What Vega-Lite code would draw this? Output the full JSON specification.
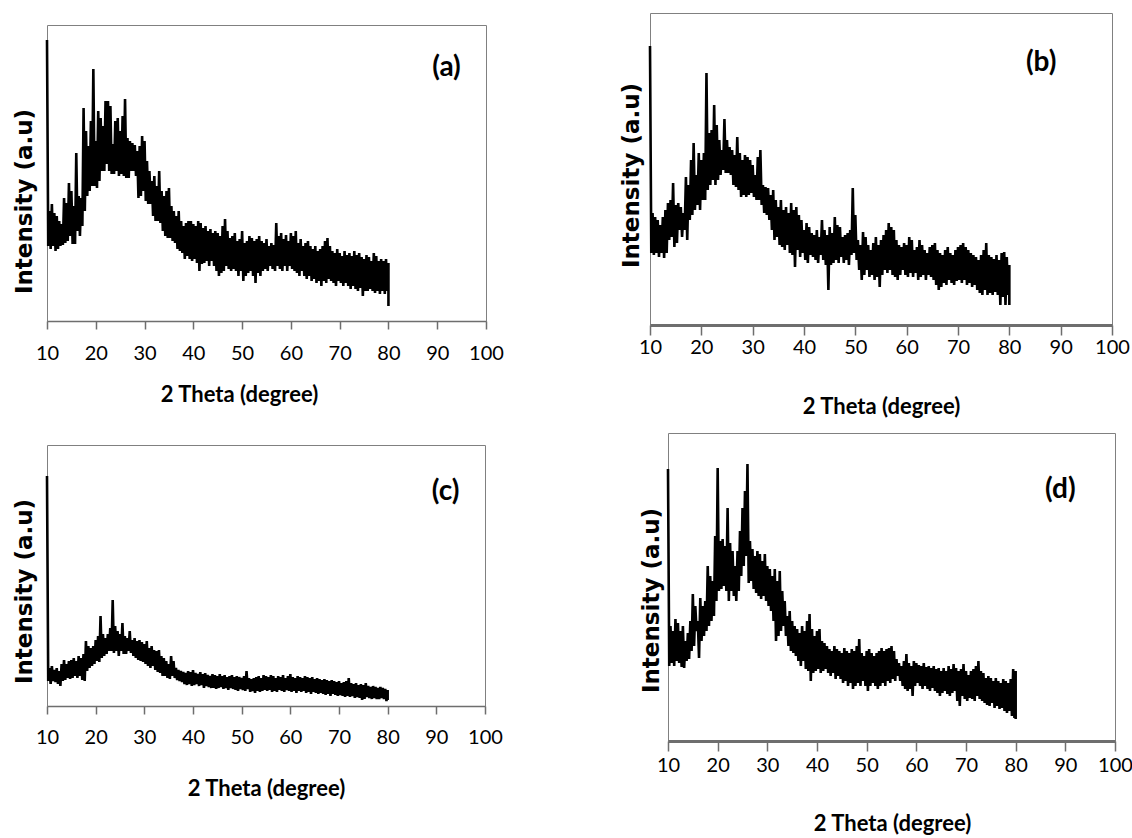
{
"$schema": "https://vega.github.io/schema/vega-lite/v6.json",
"background": "white",
"padding": {"left": 12, "top": 12, "right": 0, "bottom": 0},
"datasets": {
"a": [{"t":10,"i":281},{"t":10.25,"i":75},{"t":10.5,"i":110},{"t":10.75,"i":72},{"t":11,"i":117},{"t":11.25,"i":75},{"t":11.5,"i":108},{"t":11.75,"i":70},{"t":12,"i":105},{"t":12.25,"i":72},{"t":12.5,"i":100},{"t":12.75,"i":75},{"t":13,"i":97},{"t":13.25,"i":76},{"t":13.5,"i":123},{"t":13.75,"i":78},{"t":14,"i":118},{"t":14.25,"i":80},{"t":14.5,"i":138},{"t":14.75,"i":85},{"t":15,"i":130},{"t":15.25,"i":77},{"t":15.5,"i":115},{"t":15.75,"i":77},{"t":16,"i":168},{"t":16.25,"i":90},{"t":16.5,"i":125},{"t":16.75,"i":85},{"t":17,"i":123},{"t":17.25,"i":95},{"t":17.5,"i":213},{"t":17.75,"i":110},{"t":18,"i":190},{"t":18.25,"i":125},{"t":18.5,"i":175},{"t":18.75,"i":130},{"t":19,"i":200},{"t":19.25,"i":135},{"t":19.5,"i":252},{"t":19.75,"i":135},{"t":20,"i":180},{"t":20.25,"i":133},{"t":20.5,"i":210},{"t":20.75,"i":140},{"t":21,"i":203},{"t":21.25,"i":150},{"t":21.5,"i":195},{"t":21.75,"i":150},{"t":22,"i":220},{"t":22.25,"i":157},{"t":22.5,"i":220},{"t":22.75,"i":150},{"t":23,"i":215},{"t":23.25,"i":147},{"t":23.5,"i":177},{"t":23.75,"i":147},{"t":24,"i":200},{"t":24.25,"i":150},{"t":24.5,"i":203},{"t":24.75,"i":145},{"t":25,"i":190},{"t":25.25,"i":147},{"t":25.5,"i":205},{"t":25.75,"i":145},{"t":26,"i":222},{"t":26.25,"i":143},{"t":26.5,"i":183},{"t":26.75,"i":143},{"t":27,"i":180},{"t":27.25,"i":150},{"t":27.5,"i":178},{"t":27.75,"i":150},{"t":28,"i":176},{"t":28.25,"i":145},{"t":28.5,"i":170},{"t":28.75,"i":123},{"t":29,"i":175},{"t":29.25,"i":125},{"t":29.5,"i":185},{"t":29.75,"i":130},{"t":30,"i":180},{"t":30.25,"i":120},{"t":30.5,"i":160},{"t":30.75,"i":117},{"t":31,"i":150},{"t":31.25,"i":117},{"t":31.5,"i":140},{"t":31.75,"i":105},{"t":32,"i":145},{"t":32.25,"i":100},{"t":32.5,"i":135},{"t":32.75,"i":100},{"t":33,"i":150},{"t":33.25,"i":98},{"t":33.5,"i":130},{"t":33.75,"i":90},{"t":34,"i":125},{"t":34.25,"i":85},{"t":34.5,"i":130},{"t":34.75,"i":83},{"t":35,"i":133},{"t":35.25,"i":83},{"t":35.5,"i":115},{"t":35.75,"i":80},{"t":36,"i":110},{"t":36.25,"i":78},{"t":36.5,"i":105},{"t":36.75,"i":72},{"t":37,"i":110},{"t":37.25,"i":70},{"t":37.5,"i":100},{"t":37.75,"i":68},{"t":38,"i":95},{"t":38.25,"i":62},{"t":38.5,"i":98},{"t":38.75,"i":65},{"t":39,"i":100},{"t":39.25,"i":62},{"t":39.5,"i":100},{"t":39.75,"i":60},{"t":40,"i":97},{"t":40.25,"i":62},{"t":40.5,"i":95},{"t":40.75,"i":58},{"t":41,"i":100},{"t":41.25,"i":50},{"t":41.5,"i":98},{"t":41.75,"i":57},{"t":42,"i":93},{"t":42.25,"i":58},{"t":42.5,"i":95},{"t":42.75,"i":60},{"t":43,"i":90},{"t":43.25,"i":55},{"t":43.5,"i":92},{"t":43.75,"i":60},{"t":44,"i":88},{"t":44.25,"i":55},{"t":44.5,"i":90},{"t":44.75,"i":50},{"t":45,"i":88},{"t":45.25,"i":45},{"t":45.5,"i":85},{"t":45.75,"i":48},{"t":46,"i":95},{"t":46.25,"i":50},{"t":46.5,"i":102},{"t":46.75,"i":55},{"t":47,"i":90},{"t":47.25,"i":52},{"t":47.5,"i":83},{"t":47.75,"i":50},{"t":48,"i":85},{"t":48.25,"i":52},{"t":48.5,"i":88},{"t":48.75,"i":50},{"t":49,"i":80},{"t":49.25,"i":45},{"t":49.5,"i":82},{"t":49.75,"i":50},{"t":50,"i":90},{"t":50.25,"i":40},{"t":50.5,"i":78},{"t":50.75,"i":45},{"t":51,"i":80},{"t":51.25,"i":48},{"t":51.5,"i":85},{"t":51.75,"i":50},{"t":52,"i":83},{"t":52.25,"i":45},{"t":52.5,"i":80},{"t":52.75,"i":38},{"t":53,"i":82},{"t":53.25,"i":48},{"t":53.5,"i":85},{"t":53.75,"i":45},{"t":54,"i":80},{"t":54.25,"i":50},{"t":54.5,"i":78},{"t":54.75,"i":52},{"t":55,"i":82},{"t":55.25,"i":50},{"t":55.5,"i":75},{"t":55.75,"i":55},{"t":56,"i":78},{"t":56.25,"i":52},{"t":56.5,"i":76},{"t":56.75,"i":50},{"t":57,"i":98},{"t":57.25,"i":55},{"t":57.5,"i":85},{"t":57.75,"i":52},{"t":58,"i":88},{"t":58.25,"i":50},{"t":58.5,"i":82},{"t":58.75,"i":55},{"t":59,"i":86},{"t":59.25,"i":50},{"t":59.5,"i":80},{"t":59.75,"i":55},{"t":60,"i":88},{"t":60.25,"i":52},{"t":60.5,"i":85},{"t":60.75,"i":50},{"t":61,"i":90},{"t":61.25,"i":48},{"t":61.5,"i":78},{"t":61.75,"i":45},{"t":62,"i":82},{"t":62.25,"i":50},{"t":62.5,"i":75},{"t":62.75,"i":45},{"t":63,"i":78},{"t":63.25,"i":42},{"t":63.5,"i":80},{"t":63.75,"i":45},{"t":64,"i":75},{"t":64.25,"i":40},{"t":64.5,"i":72},{"t":64.75,"i":42},{"t":65,"i":75},{"t":65.25,"i":38},{"t":65.5,"i":70},{"t":65.75,"i":40},{"t":66,"i":72},{"t":66.25,"i":35},{"t":66.5,"i":75},{"t":66.75,"i":40},{"t":67,"i":80},{"t":67.25,"i":38},{"t":67.5,"i":83},{"t":67.75,"i":42},{"t":68,"i":75},{"t":68.25,"i":40},{"t":68.5,"i":70},{"t":68.75,"i":38},{"t":69,"i":68},{"t":69.25,"i":35},{"t":69.5,"i":72},{"t":69.75,"i":40},{"t":70,"i":68},{"t":70.25,"i":38},{"t":70.5,"i":65},{"t":70.75,"i":35},{"t":71,"i":70},{"t":71.25,"i":38},{"t":71.5,"i":66},{"t":71.75,"i":35},{"t":72,"i":68},{"t":72.25,"i":32},{"t":72.5,"i":65},{"t":72.75,"i":35},{"t":73,"i":70},{"t":73.25,"i":32},{"t":73.5,"i":66},{"t":73.75,"i":30},{"t":74,"i":68},{"t":74.25,"i":33},{"t":74.5,"i":64},{"t":74.75,"i":25},{"t":75,"i":62},{"t":75.25,"i":30},{"t":75.5,"i":66},{"t":75.75,"i":30},{"t":76,"i":64},{"t":76.25,"i":32},{"t":76.5,"i":60},{"t":76.75,"i":30},{"t":77,"i":68},{"t":77.25,"i":28},{"t":77.5,"i":65},{"t":77.75,"i":30},{"t":78,"i":60},{"t":78.25,"i":27},{"t":78.5,"i":62},{"t":78.75,"i":30},{"t":79,"i":60},{"t":79.25,"i":27},{"t":79.5,"i":62},{"t":79.75,"i":30},{"t":80,"i":58},{"t":80,"i":15}],
"b": [{"t":10,"i":279},{"t":10.25,"i":72},{"t":10.5,"i":112},{"t":10.75,"i":70},{"t":11,"i":108},{"t":11.25,"i":72},{"t":11.5,"i":105},{"t":11.75,"i":68},{"t":12,"i":100},{"t":12.25,"i":72},{"t":12.5,"i":108},{"t":12.75,"i":67},{"t":13,"i":115},{"t":13.25,"i":72},{"t":13.5,"i":122},{"t":13.75,"i":85},{"t":14,"i":125},{"t":14.25,"i":88},{"t":14.5,"i":142},{"t":14.75,"i":78},{"t":15,"i":120},{"t":15.25,"i":82},{"t":15.5,"i":122},{"t":15.75,"i":95},{"t":16,"i":118},{"t":16.25,"i":88},{"t":16.5,"i":112},{"t":16.75,"i":95},{"t":17,"i":148},{"t":17.25,"i":85},{"t":17.5,"i":140},{"t":17.75,"i":105},{"t":18,"i":165},{"t":18.25,"i":110},{"t":18.5,"i":182},{"t":18.75,"i":115},{"t":19,"i":150},{"t":19.25,"i":120},{"t":19.5,"i":172},{"t":19.75,"i":115},{"t":20,"i":165},{"t":20.25,"i":125},{"t":20.5,"i":172},{"t":20.75,"i":125},{"t":21,"i":252},{"t":21.25,"i":135},{"t":21.5,"i":192},{"t":21.75,"i":140},{"t":22,"i":195},{"t":22.25,"i":145},{"t":22.5,"i":220},{"t":22.75,"i":140},{"t":23,"i":200},{"t":23.25,"i":145},{"t":23.5,"i":185},{"t":23.75,"i":150},{"t":24,"i":175},{"t":24.25,"i":155},{"t":24.5,"i":206},{"t":24.75,"i":152},{"t":25,"i":185},{"t":25.25,"i":152},{"t":25.5,"i":178},{"t":25.75,"i":150},{"t":26,"i":175},{"t":26.25,"i":140},{"t":26.5,"i":170},{"t":26.75,"i":138},{"t":27,"i":188},{"t":27.25,"i":135},{"t":27.5,"i":172},{"t":27.75,"i":128},{"t":28,"i":165},{"t":28.25,"i":130},{"t":28.5,"i":170},{"t":28.75,"i":128},{"t":29,"i":168},{"t":29.25,"i":130},{"t":29.5,"i":165},{"t":29.75,"i":132},{"t":30,"i":160},{"t":30.25,"i":128},{"t":30.5,"i":150},{"t":30.75,"i":125},{"t":31,"i":168},{"t":31.25,"i":125},{"t":31.5,"i":175},{"t":31.75,"i":120},{"t":32,"i":140},{"t":32.25,"i":112},{"t":32.5,"i":138},{"t":32.75,"i":110},{"t":33,"i":137},{"t":33.25,"i":105},{"t":33.5,"i":130},{"t":33.75,"i":95},{"t":34,"i":135},{"t":34.25,"i":85},{"t":34.5,"i":125},{"t":34.75,"i":88},{"t":35,"i":118},{"t":35.25,"i":80},{"t":35.5,"i":125},{"t":35.75,"i":78},{"t":36,"i":115},{"t":36.25,"i":75},{"t":36.5,"i":118},{"t":36.75,"i":80},{"t":37,"i":112},{"t":37.25,"i":72},{"t":37.5,"i":122},{"t":37.75,"i":70},{"t":38,"i":115},{"t":38.25,"i":58},{"t":38.5,"i":118},{"t":38.75,"i":75},{"t":39,"i":110},{"t":39.25,"i":68},{"t":39.5,"i":105},{"t":39.75,"i":72},{"t":40,"i":95},{"t":40.25,"i":65},{"t":40.5,"i":102},{"t":40.75,"i":62},{"t":41,"i":98},{"t":41.25,"i":70},{"t":41.5,"i":92},{"t":41.75,"i":68},{"t":42,"i":90},{"t":42.25,"i":65},{"t":42.5,"i":95},{"t":42.75,"i":62},{"t":43,"i":88},{"t":43.25,"i":70},{"t":43.5,"i":105},{"t":43.75,"i":65},{"t":44,"i":95},{"t":44.25,"i":60},{"t":44.5,"i":90},{"t":44.75,"i":35},{"t":45,"i":98},{"t":45.25,"i":60},{"t":45.5,"i":92},{"t":45.75,"i":62},{"t":46,"i":108},{"t":46.25,"i":65},{"t":46.5,"i":100},{"t":46.75,"i":62},{"t":47,"i":98},{"t":47.25,"i":68},{"t":47.5,"i":88},{"t":47.75,"i":62},{"t":48,"i":90},{"t":48.25,"i":65},{"t":48.5,"i":92},{"t":48.75,"i":60},{"t":49,"i":95},{"t":49.25,"i":70},{"t":49.5,"i":137},{"t":49.75,"i":72},{"t":50,"i":110},{"t":50.25,"i":65},{"t":50.5,"i":85},{"t":50.75,"i":55},{"t":51,"i":80},{"t":51.25,"i":45},{"t":51.5,"i":93},{"t":51.75,"i":50},{"t":52,"i":88},{"t":52.25,"i":55},{"t":52.5,"i":80},{"t":52.75,"i":48},{"t":53,"i":75},{"t":53.25,"i":50},{"t":53.5,"i":82},{"t":53.75,"i":45},{"t":54,"i":88},{"t":54.25,"i":48},{"t":54.5,"i":80},{"t":54.75,"i":38},{"t":55,"i":85},{"t":55.25,"i":50},{"t":55.5,"i":90},{"t":55.75,"i":55},{"t":56,"i":95},{"t":56.25,"i":52},{"t":56.5,"i":102},{"t":56.75,"i":55},{"t":57,"i":98},{"t":57.25,"i":50},{"t":57.5,"i":95},{"t":57.75,"i":48},{"t":58,"i":85},{"t":58.25,"i":45},{"t":58.5,"i":80},{"t":58.75,"i":50},{"t":59,"i":78},{"t":59.25,"i":55},{"t":59.5,"i":82},{"t":59.75,"i":50},{"t":60,"i":80},{"t":60.25,"i":48},{"t":60.5,"i":88},{"t":60.75,"i":52},{"t":61,"i":85},{"t":61.25,"i":48},{"t":61.5,"i":75},{"t":61.75,"i":52},{"t":62,"i":78},{"t":62.25,"i":45},{"t":62.5,"i":85},{"t":62.75,"i":48},{"t":63,"i":80},{"t":63.25,"i":50},{"t":63.5,"i":75},{"t":63.75,"i":45},{"t":64,"i":72},{"t":64.25,"i":50},{"t":64.5,"i":78},{"t":64.75,"i":48},{"t":65,"i":80},{"t":65.25,"i":45},{"t":65.5,"i":82},{"t":65.75,"i":40},{"t":66,"i":75},{"t":66.25,"i":35},{"t":66.5,"i":72},{"t":66.75,"i":38},{"t":67,"i":70},{"t":67.25,"i":42},{"t":67.5,"i":75},{"t":67.75,"i":40},{"t":68,"i":78},{"t":68.25,"i":45},{"t":68.5,"i":72},{"t":68.75,"i":42},{"t":69,"i":70},{"t":69.25,"i":40},{"t":69.5,"i":75},{"t":69.75,"i":44},{"t":70,"i":78},{"t":70.25,"i":45},{"t":70.5,"i":80},{"t":70.75,"i":42},{"t":71,"i":82},{"t":71.25,"i":45},{"t":71.5,"i":78},{"t":71.75,"i":40},{"t":72,"i":75},{"t":72.25,"i":42},{"t":72.5,"i":72},{"t":72.75,"i":38},{"t":73,"i":70},{"t":73.25,"i":40},{"t":73.5,"i":68},{"t":73.75,"i":35},{"t":74,"i":65},{"t":74.25,"i":32},{"t":74.5,"i":70},{"t":74.75,"i":30},{"t":75,"i":75},{"t":75.25,"i":35},{"t":75.5,"i":82},{"t":75.75,"i":30},{"t":76,"i":70},{"t":76.25,"i":32},{"t":76.5,"i":68},{"t":76.75,"i":30},{"t":77,"i":66},{"t":77.25,"i":33},{"t":77.5,"i":70},{"t":77.75,"i":30},{"t":78,"i":65},{"t":78.25,"i":20},{"t":78.5,"i":72},{"t":78.75,"i":28},{"t":79,"i":73},{"t":79.25,"i":20},{"t":79.5,"i":68},{"t":79.75,"i":30},{"t":80,"i":60},{"t":80,"i":20}],
"c": [{"t":10,"i":230},{"t":10.25,"i":25},{"t":10.5,"i":38},{"t":10.75,"i":22},{"t":11,"i":40},{"t":11.25,"i":25},{"t":11.5,"i":36},{"t":11.75,"i":24},{"t":12,"i":38},{"t":12.25,"i":22},{"t":12.5,"i":35},{"t":12.75,"i":20},{"t":13,"i":42},{"t":13.25,"i":25},{"t":13.5,"i":46},{"t":13.75,"i":26},{"t":14,"i":42},{"t":14.25,"i":28},{"t":14.5,"i":45},{"t":14.75,"i":27},{"t":15,"i":46},{"t":15.25,"i":28},{"t":15.5,"i":48},{"t":15.75,"i":30},{"t":16,"i":45},{"t":16.25,"i":28},{"t":16.5,"i":50},{"t":16.75,"i":30},{"t":17,"i":48},{"t":17.25,"i":26},{"t":17.5,"i":52},{"t":17.75,"i":25},{"t":18,"i":65},{"t":18.25,"i":35},{"t":18.5,"i":60},{"t":18.75,"i":38},{"t":19,"i":58},{"t":19.25,"i":40},{"t":19.5,"i":60},{"t":19.75,"i":42},{"t":20,"i":66},{"t":20.25,"i":45},{"t":20.5,"i":70},{"t":20.75,"i":44},{"t":21,"i":90},{"t":21.25,"i":48},{"t":21.5,"i":72},{"t":21.75,"i":50},{"t":22,"i":68},{"t":22.25,"i":52},{"t":22.5,"i":72},{"t":22.75,"i":55},{"t":23,"i":78},{"t":23.25,"i":55},{"t":23.5,"i":106},{"t":23.75,"i":53},{"t":24,"i":80},{"t":24.25,"i":55},{"t":24.5,"i":75},{"t":24.75,"i":50},{"t":25,"i":72},{"t":25.25,"i":55},{"t":25.5,"i":83},{"t":25.75,"i":52},{"t":26,"i":70},{"t":26.25,"i":52},{"t":26.5,"i":68},{"t":26.75,"i":55},{"t":27,"i":75},{"t":27.25,"i":53},{"t":27.5,"i":66},{"t":27.75,"i":50},{"t":28,"i":68},{"t":28.25,"i":48},{"t":28.5,"i":65},{"t":28.75,"i":46},{"t":29,"i":66},{"t":29.25,"i":45},{"t":29.5,"i":64},{"t":29.75,"i":44},{"t":30,"i":62},{"t":30.25,"i":42},{"t":30.5,"i":65},{"t":30.75,"i":40},{"t":31,"i":58},{"t":31.25,"i":38},{"t":31.5,"i":60},{"t":31.75,"i":40},{"t":32,"i":56},{"t":32.25,"i":36},{"t":32.5,"i":55},{"t":32.75,"i":34},{"t":33,"i":56},{"t":33.25,"i":33},{"t":33.5,"i":50},{"t":33.75,"i":30},{"t":34,"i":48},{"t":34.25,"i":30},{"t":34.5,"i":45},{"t":34.75,"i":28},{"t":35,"i":42},{"t":35.25,"i":27},{"t":35.5,"i":50},{"t":35.75,"i":30},{"t":36,"i":45},{"t":36.25,"i":28},{"t":36.5,"i":38},{"t":36.75,"i":26},{"t":37,"i":36},{"t":37.25,"i":25},{"t":37.5,"i":35},{"t":37.75,"i":24},{"t":38,"i":34},{"t":38.25,"i":22},{"t":38.5,"i":33},{"t":38.75,"i":21},{"t":39,"i":35},{"t":39.25,"i":22},{"t":39.5,"i":34},{"t":39.75,"i":20},{"t":40,"i":36},{"t":40.25,"i":21},{"t":40.5,"i":33},{"t":40.75,"i":22},{"t":41,"i":32},{"t":41.25,"i":20},{"t":41.5,"i":34},{"t":41.75,"i":21},{"t":42,"i":32},{"t":42.25,"i":18},{"t":42.5,"i":33},{"t":42.75,"i":20},{"t":43,"i":31},{"t":43.25,"i":19},{"t":43.5,"i":30},{"t":43.75,"i":18},{"t":44,"i":32},{"t":44.25,"i":18},{"t":44.5,"i":31},{"t":44.75,"i":17},{"t":45,"i":30},{"t":45.25,"i":18},{"t":45.5,"i":32},{"t":45.75,"i":19},{"t":46,"i":30},{"t":46.25,"i":17},{"t":46.5,"i":31},{"t":46.75,"i":18},{"t":47,"i":29},{"t":47.25,"i":16},{"t":47.5,"i":30},{"t":47.75,"i":18},{"t":48,"i":31},{"t":48.25,"i":17},{"t":48.5,"i":29},{"t":48.75,"i":16},{"t":49,"i":30},{"t":49.25,"i":15},{"t":49.5,"i":29},{"t":49.75,"i":17},{"t":50,"i":28},{"t":50.25,"i":16},{"t":50.5,"i":30},{"t":50.75,"i":15},{"t":51,"i":35},{"t":51.25,"i":17},{"t":51.5,"i":28},{"t":51.75,"i":14},{"t":52,"i":27},{"t":52.25,"i":15},{"t":52.5,"i":28},{"t":52.75,"i":13},{"t":53,"i":29},{"t":53.25,"i":15},{"t":53.5,"i":30},{"t":53.75,"i":14},{"t":54,"i":28},{"t":54.25,"i":15},{"t":54.5,"i":31},{"t":54.75,"i":16},{"t":55,"i":30},{"t":55.25,"i":15},{"t":55.5,"i":29},{"t":55.75,"i":16},{"t":56,"i":31},{"t":56.25,"i":14},{"t":56.5,"i":30},{"t":56.75,"i":15},{"t":57,"i":28},{"t":57.25,"i":14},{"t":57.5,"i":30},{"t":57.75,"i":16},{"t":58,"i":29},{"t":58.25,"i":15},{"t":58.5,"i":31},{"t":58.75,"i":14},{"t":59,"i":28},{"t":59.25,"i":16},{"t":59.5,"i":30},{"t":59.75,"i":15},{"t":60,"i":32},{"t":60.25,"i":14},{"t":60.5,"i":29},{"t":60.75,"i":15},{"t":61,"i":28},{"t":61.25,"i":13},{"t":61.5,"i":30},{"t":61.75,"i":15},{"t":62,"i":29},{"t":62.25,"i":14},{"t":62.5,"i":28},{"t":62.75,"i":15},{"t":63,"i":30},{"t":63.25,"i":13},{"t":63.5,"i":29},{"t":63.75,"i":14},{"t":64,"i":28},{"t":64.25,"i":12},{"t":64.5,"i":29},{"t":64.75,"i":14},{"t":65,"i":27},{"t":65.25,"i":13},{"t":65.5,"i":28},{"t":65.75,"i":12},{"t":66,"i":27},{"t":66.25,"i":13},{"t":66.5,"i":26},{"t":66.75,"i":12},{"t":67,"i":27},{"t":67.25,"i":11},{"t":67.5,"i":26},{"t":67.75,"i":12},{"t":68,"i":25},{"t":68.25,"i":10},{"t":68.5,"i":26},{"t":68.75,"i":12},{"t":69,"i":25},{"t":69.25,"i":11},{"t":69.5,"i":24},{"t":69.75,"i":10},{"t":70,"i":25},{"t":70.25,"i":11},{"t":70.5,"i":23},{"t":70.75,"i":10},{"t":71,"i":24},{"t":71.25,"i":9},{"t":71.5,"i":25},{"t":71.75,"i":10},{"t":72,"i":28},{"t":72.25,"i":9},{"t":72.5,"i":23},{"t":72.75,"i":10},{"t":73,"i":22},{"t":73.25,"i":8},{"t":73.5,"i":23},{"t":73.75,"i":9},{"t":74,"i":21},{"t":74.25,"i":8},{"t":74.5,"i":22},{"t":74.75,"i":6},{"t":75,"i":21},{"t":75.25,"i":7},{"t":75.5,"i":23},{"t":75.75,"i":9},{"t":76,"i":20},{"t":76.25,"i":8},{"t":76.5,"i":19},{"t":76.75,"i":7},{"t":77,"i":20},{"t":77.25,"i":8},{"t":77.5,"i":19},{"t":77.75,"i":7},{"t":78,"i":18},{"t":78.25,"i":7},{"t":78.5,"i":19},{"t":78.75,"i":8},{"t":79,"i":18},{"t":79.25,"i":7},{"t":79.5,"i":17},{"t":79.75,"i":5},{"t":80,"i":16},{"t":80,"i":6}],
"d": [{"t":10,"i":272},{"t":10.25,"i":75},{"t":10.5,"i":115},{"t":10.75,"i":78},{"t":11,"i":110},{"t":11.25,"i":75},{"t":11.5,"i":122},{"t":11.75,"i":80},{"t":12,"i":118},{"t":12.25,"i":78},{"t":12.5,"i":110},{"t":12.75,"i":74},{"t":13,"i":115},{"t":13.25,"i":73},{"t":13.5,"i":100},{"t":13.75,"i":80},{"t":14,"i":108},{"t":14.25,"i":82},{"t":14.5,"i":120},{"t":14.75,"i":90},{"t":15,"i":147},{"t":15.25,"i":95},{"t":15.5,"i":135},{"t":15.75,"i":110},{"t":16,"i":120},{"t":16.25,"i":83},{"t":16.5,"i":143},{"t":16.75,"i":100},{"t":17,"i":135},{"t":17.25,"i":105},{"t":17.5,"i":140},{"t":17.75,"i":110},{"t":18,"i":175},{"t":18.25,"i":115},{"t":18.5,"i":165},{"t":18.75,"i":120},{"t":19,"i":160},{"t":19.25,"i":125},{"t":19.5,"i":205},{"t":19.75,"i":140},{"t":20,"i":273},{"t":20.25,"i":150},{"t":20.5,"i":200},{"t":20.75,"i":152},{"t":21,"i":202},{"t":21.25,"i":155},{"t":21.5,"i":195},{"t":21.75,"i":150},{"t":22,"i":233},{"t":22.25,"i":140},{"t":22.5,"i":198},{"t":22.75,"i":150},{"t":23,"i":190},{"t":23.25,"i":145},{"t":23.5,"i":175},{"t":23.75,"i":140},{"t":24,"i":190},{"t":24.25,"i":150},{"t":24.5,"i":210},{"t":24.75,"i":165},{"t":25,"i":233},{"t":25.25,"i":175},{"t":25.5,"i":250},{"t":25.75,"i":185},{"t":26,"i":277},{"t":26.25,"i":158},{"t":26.5,"i":200},{"t":26.75,"i":160},{"t":27,"i":192},{"t":27.25,"i":152},{"t":27.5,"i":185},{"t":27.75,"i":148},{"t":28,"i":190},{"t":28.25,"i":145},{"t":28.5,"i":187},{"t":28.75,"i":142},{"t":29,"i":180},{"t":29.25,"i":145},{"t":29.5,"i":187},{"t":29.75,"i":140},{"t":30,"i":175},{"t":30.25,"i":135},{"t":30.5,"i":172},{"t":30.75,"i":130},{"t":31,"i":165},{"t":31.25,"i":120},{"t":31.5,"i":172},{"t":31.75,"i":100},{"t":32,"i":160},{"t":32.25,"i":105},{"t":32.5,"i":170},{"t":32.75,"i":110},{"t":33,"i":150},{"t":33.25,"i":115},{"t":33.5,"i":140},{"t":33.75,"i":105},{"t":34,"i":125},{"t":34.25,"i":95},{"t":34.5,"i":130},{"t":34.75,"i":90},{"t":35,"i":120},{"t":35.25,"i":88},{"t":35.5,"i":115},{"t":35.75,"i":85},{"t":36,"i":112},{"t":36.25,"i":80},{"t":36.5,"i":108},{"t":36.75,"i":75},{"t":37,"i":115},{"t":37.25,"i":80},{"t":37.5,"i":110},{"t":37.75,"i":72},{"t":38,"i":120},{"t":38.25,"i":70},{"t":38.5,"i":127},{"t":38.75,"i":60},{"t":39,"i":112},{"t":39.25,"i":68},{"t":39.5,"i":105},{"t":39.75,"i":70},{"t":40,"i":110},{"t":40.25,"i":72},{"t":40.5,"i":112},{"t":40.75,"i":68},{"t":41,"i":100},{"t":41.25,"i":70},{"t":41.5,"i":98},{"t":41.75,"i":72},{"t":42,"i":95},{"t":42.25,"i":68},{"t":42.5,"i":92},{"t":42.75,"i":65},{"t":43,"i":90},{"t":43.25,"i":68},{"t":43.5,"i":95},{"t":43.75,"i":62},{"t":44,"i":92},{"t":44.25,"i":65},{"t":44.5,"i":90},{"t":44.75,"i":62},{"t":45,"i":88},{"t":45.25,"i":58},{"t":45.5,"i":93},{"t":45.75,"i":60},{"t":46,"i":90},{"t":46.25,"i":55},{"t":46.5,"i":88},{"t":46.75,"i":58},{"t":47,"i":92},{"t":47.25,"i":52},{"t":47.5,"i":90},{"t":47.75,"i":55},{"t":48,"i":95},{"t":48.25,"i":58},{"t":48.5,"i":102},{"t":48.75,"i":55},{"t":49,"i":88},{"t":49.25,"i":60},{"t":49.5,"i":85},{"t":49.75,"i":55},{"t":50,"i":90},{"t":50.25,"i":50},{"t":50.5,"i":92},{"t":50.75,"i":55},{"t":51,"i":88},{"t":51.25,"i":58},{"t":51.5,"i":85},{"t":51.75,"i":55},{"t":52,"i":88},{"t":52.25,"i":52},{"t":52.5,"i":90},{"t":52.75,"i":55},{"t":53,"i":93},{"t":53.25,"i":58},{"t":53.5,"i":90},{"t":53.75,"i":55},{"t":54,"i":92},{"t":54.25,"i":60},{"t":54.5,"i":93},{"t":54.75,"i":58},{"t":55,"i":95},{"t":55.25,"i":62},{"t":55.5,"i":90},{"t":55.75,"i":60},{"t":56,"i":82},{"t":56.25,"i":65},{"t":56.5,"i":78},{"t":56.75,"i":60},{"t":57,"i":75},{"t":57.25,"i":55},{"t":57.5,"i":80},{"t":57.75,"i":52},{"t":58,"i":87},{"t":58.25,"i":50},{"t":58.5,"i":78},{"t":58.75,"i":52},{"t":59,"i":75},{"t":59.25,"i":45},{"t":59.5,"i":80},{"t":59.75,"i":55},{"t":60,"i":78},{"t":60.25,"i":58},{"t":60.5,"i":76},{"t":60.75,"i":55},{"t":61,"i":75},{"t":61.25,"i":52},{"t":61.5,"i":78},{"t":61.75,"i":55},{"t":62,"i":74},{"t":62.25,"i":52},{"t":62.5,"i":75},{"t":62.75,"i":50},{"t":63,"i":73},{"t":63.25,"i":53},{"t":63.5,"i":75},{"t":63.75,"i":50},{"t":64,"i":72},{"t":64.25,"i":48},{"t":64.5,"i":73},{"t":64.75,"i":45},{"t":65,"i":70},{"t":65.25,"i":48},{"t":65.5,"i":73},{"t":65.75,"i":50},{"t":66,"i":70},{"t":66.25,"i":47},{"t":66.5,"i":75},{"t":66.75,"i":45},{"t":67,"i":72},{"t":67.25,"i":48},{"t":67.5,"i":77},{"t":67.75,"i":50},{"t":68,"i":73},{"t":68.25,"i":40},{"t":68.5,"i":70},{"t":68.75,"i":35},{"t":69,"i":72},{"t":69.25,"i":45},{"t":69.5,"i":77},{"t":69.75,"i":42},{"t":70,"i":70},{"t":70.25,"i":40},{"t":70.5,"i":66},{"t":70.75,"i":43},{"t":71,"i":70},{"t":71.25,"i":42},{"t":71.5,"i":72},{"t":71.75,"i":40},{"t":72,"i":75},{"t":72.25,"i":45},{"t":72.5,"i":80},{"t":72.75,"i":42},{"t":73,"i":70},{"t":73.25,"i":40},{"t":73.5,"i":68},{"t":73.75,"i":38},{"t":74,"i":63},{"t":74.25,"i":36},{"t":74.5,"i":65},{"t":74.75,"i":35},{"t":75,"i":63},{"t":75.25,"i":38},{"t":75.5,"i":60},{"t":75.75,"i":33},{"t":76,"i":63},{"t":76.25,"i":35},{"t":76.5,"i":60},{"t":76.75,"i":32},{"t":77,"i":58},{"t":77.25,"i":33},{"t":77.5,"i":62},{"t":77.75,"i":30},{"t":78,"i":60},{"t":78.25,"i":28},{"t":78.5,"i":58},{"t":78.75,"i":30},{"t":79,"i":62},{"t":79.25,"i":25},{"t":79.5,"i":72},{"t":79.75,"i":23},{"t":80,"i":70},{"t":80,"i":22}]
},
"vconcat": [
 {"hconcat": [
   {"vconcat": [
     {"width": 1, "height": 1, "data": {"values": []}, "mark": "point", "encoding": {}, "view": {"stroke": null, "fill": "white"}},
     {"width": 439, "height": 296,
      "layer": [
       {"data": {"name": "a"}, "mark": {"type": "line", "color": "black", "strokeWidth": 2.6},
        "encoding": {
         "x": {"field": "t", "type": "quantitative", "scale": {"domain": [10, 100], "nice": false, "zero": false},
               "axis": {"title": "2 Theta (degree)", "labelPadding": 24, "tickSize": 8, "domainWidth": 1.5, "titleX": 192, "titleY": 73}},
         "y": {"field": "i", "type": "quantitative", "scale": {"domain": [0, 296], "nice": false},
               "axis": {"title": "Intensity (a.u)", "titleX": -23, "titleY": 176}},
         "order": {"value": null}}},
       {"data": {"values": [{"t": 91.9, "i": 253, "label": "(a)"}]},
        "mark": {"type": "text", "font": "Lato", "fontWeight": "bold", "fontSize": 28, "baseline": "middle", "align": "center"},
        "encoding": {"x": {"field": "t", "type": "quantitative"}, "y": {"field": "i", "type": "quantitative"}, "text": {"field": "label"}}}
      ]}
   ], "spacing": 10},
   {"width": 462, "height": 312,
    "layer": [
     {"data": {"name": "b"}, "mark": {"type": "line", "color": "black", "strokeWidth": 2.6},
      "encoding": {
       "x": {"field": "t", "type": "quantitative", "scale": {"domain": [10, 100], "nice": false, "zero": false},
             "axis": {"title": "2 Theta (degree)", "labelPadding": 12, "tickSize": 10, "domainWidth": 3, "titleX": 231, "titleY": 81}},
       "y": {"field": "i", "type": "quantitative", "scale": {"domain": [0, 312], "nice": false},
             "axis": {"title": "Intensity (a.u)", "titleX": -18.6, "titleY": 162}},
       "order": {"value": null}}},
     {"data": {"values": [{"t": 86.2, "i": 262, "label": "(b)"}]},
      "mark": {"type": "text", "font": "Lato", "fontWeight": "bold", "fontSize": 28, "baseline": "middle", "align": "center"},
      "encoding": {"x": {"field": "t", "type": "quantitative"}, "y": {"field": "i", "type": "quantitative"}, "text": {"field": "label"}}}
    ]}
 ], "spacing": 115},
 {"hconcat": [
   {"vconcat": [
     {"width": 1, "height": 1, "data": {"values": []}, "mark": "point", "encoding": {}, "view": {"stroke": null, "fill": "white"}},
     {"width": 438, "height": 261,
      "layer": [
       {"data": {"name": "c"}, "mark": {"type": "line", "color": "black", "strokeWidth": 2.6},
        "encoding": {
         "x": {"field": "t", "type": "quantitative", "scale": {"domain": [10, 100], "nice": false, "zero": false},
               "axis": {"title": "2 Theta (degree)", "labelPadding": 23, "tickSize": 8, "domainWidth": 1.5, "titleX": 219, "titleY": 82}},
         "y": {"field": "i", "type": "quantitative", "scale": {"domain": [0, 261], "nice": false},
               "axis": {"title": "Intensity (a.u)", "titleX": -23, "titleY": 146}},
         "order": {"value": null}}},
       {"data": {"values": [{"t": 91.9, "i": 214, "label": "(c)"}]},
        "mark": {"type": "text", "font": "Lato", "fontWeight": "bold", "fontSize": 28, "baseline": "middle", "align": "center"},
        "encoding": {"x": {"field": "t", "type": "quantitative"}, "y": {"field": "i", "type": "quantitative"}, "text": {"field": "label"}}}
      ]}
   ], "spacing": 10},
   {"width": 447, "height": 308,
    "layer": [
     {"data": {"name": "d"}, "mark": {"type": "line", "color": "black", "strokeWidth": 2.6},
      "encoding": {
       "x": {"field": "t", "type": "quantitative", "scale": {"domain": [10, 100], "nice": false, "zero": false},
             "axis": {"title": "2 Theta (degree)", "labelPadding": 14, "tickSize": 10, "domainWidth": 3, "titleX": 224, "titleY": 82}},
       "y": {"field": "i", "type": "quantitative", "scale": {"domain": [0, 308], "nice": false},
             "axis": {"title": "Intensity (a.u)", "titleX": -17, "titleY": 167}},
       "order": {"value": null}}},
     {"data": {"values": [{"t": 89.0, "i": 251, "label": "(d)"}]},
      "mark": {"type": "text", "font": "Lato", "fontWeight": "bold", "fontSize": 28, "baseline": "middle", "align": "center"},
      "encoding": {"x": {"field": "t", "type": "quantitative"}, "y": {"field": "i", "type": "quantitative"}, "text": {"field": "label"}}}
    ]}
 ], "spacing": 136}
],
"spacing": 14,
"config": {
 "view": {"stroke": "#808080", "strokeWidth": 1},
 "axisX": {"values": [10, 20, 30, 40, 50, 60, 70, 80, 90, 100], "grid": false, "tickColor": "#6e6e6e", "tickWidth": 1.5, "domainColor": "#6e6e6e",
           "labelFont": "Lato", "labelFontSize": 20, "labelColor": "#000000", "labelBaseline": "middle", "labelFlush": false, "labelOverlap": false,
           "titleFont": "Lato", "titleFontWeight": "bold", "titleFontSize": 22, "titleColor": "#000000", "titleBaseline": "middle", "titleAlign": "center"},
 "axisY": {"labels": false, "ticks": false, "domain": false, "grid": false,
           "titleFont": "DejaVu Sans", "titleFontWeight": "bold", "titleFontSize": 23, "titleColor": "#000000", "titleBaseline": "middle", "titleAlign": "center", "titleAngle": -90}
}
}
